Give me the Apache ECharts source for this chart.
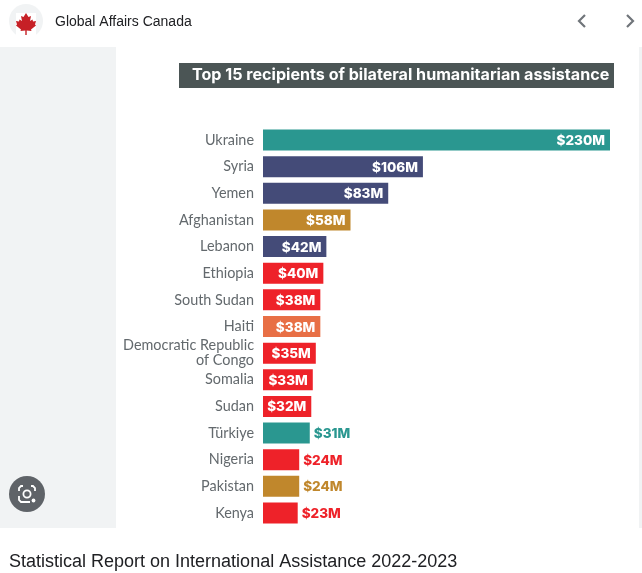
<!DOCTYPE html>
<html>
<head>
<meta charset="utf-8">
<style>html,body{margin:0;padding:0;background:#fff;overflow:hidden}#c{width:642px;height:573px}</style>
<script src="https://cdn.jsdelivr.net/npm/echarts@6/dist/echarts.min.js"></script>
</head>
<body>
<div id="c"></div>
<script>
var categories = ['Ukraine','Syria','Yemen','Afghanistan','Lebanon','Ethiopia','South Sudan','Haiti','Democratic Republic\nof Congo','Somalia','Sudan','Türkiye','Nigeria','Pakistan','Kenya'];
var values = [230,106,83,58,42,40,38,38,35,33,32,31,24,24,23];
var colours = ['#2a9790','#444b78','#444b78','#c0872c','#444b78','#ee2229','#ee2229','#e86f45','#ee2229','#ee2229','#ee2229','#2a9790','#ee2229','#c0872c','#ee2229'];
var labelInside = [1,1,1,1,1,1,1,1,1,1,1,0,0,0,0];
var titleText = 'Top 15 recipients of bilateral humanitarian assistance';
var sourceName = 'Global Affairs Canada';
var pageCaption = 'Statistical Report on International Assistance 2022-2023';
var valueFont = 'Inter, "Open Sans", sans-serif';

var chart = echarts.init(document.getElementById('c'), null, {renderer:'canvas'});
chart.setOption({
  animation:false,
  backgroundColor:'#ffffff',
  title:{
    text:titleText, left:187, top:61,
    textStyle:{color:'#ffffff',fontFamily:'Inter, sans-serif',fontWeight:700,fontSize:16.1,lineHeight:18}
  },
  grid:{left:263,top:126.7,width:347,height:399.6,containLabel:false},
  xAxis:{type:'value',min:0,max:230,show:false},
  yAxis:{
    type:'category',data:categories,inverse:true,
    axisLine:{show:false},axisTick:{show:false},splitLine:{show:false},
    axisLabel:{color:'#63696d',fontFamily:'Lato, sans-serif',fontSize:14.4,lineHeight:15,margin:9,align:'right',interval:0}
  },
  series:[{
    type:'bar',barWidth:21,silent:true,
    data:values.map(function(v,i){
      var inside = labelInside[i];
      return {
        value:v,
        itemStyle:{color:colours[i]},
        label:{
          show:true,
          position: inside ? 'insideRight' : 'right',
          distance: inside ? 5 : 4,
          offset:[0,1],
          color: inside ? '#ffffff' : colours[i],
          fontFamily:valueFont,fontWeight:800,fontSize:13.5,
          formatter:'$'+v+'M'
        }
      };
    })
  }],
  graphic:[
    {type:'rect',z:-1,shape:{x:0,y:47,width:116,height:481},style:{fill:'#f1f3f4'}},
    {type:'rect',z:-1,shape:{x:639,y:47,width:3,height:481},style:{fill:'#f1f3f4'}},
    {type:'rect',z:0,shape:{x:179,y:63,width:435,height:25},style:{fill:'#4b5555'}},
    {type:'circle',shape:{cx:26,cy:21,r:17},style:{fill:'#f1f3f4'}},
    {type:'rect',shape:{x:16,y:13,width:20,height:25},style:{fill:'#ffffff'}},
    {type:'polygon',shape:{points:[[26,13],[28.5,17],[31,16],[30,21],[32.5,19.5],[33,21.5],[36,21],[35,24.5],[36,25.5],[31,29.5],[31.5,31],[26.7,30.5],[26.7,35],[25.3,35],[25.3,30.5],[20.5,31],[21,29.5],[16,25.5],[17,24.5],[16,21],[19,21.5],[19.5,19.5],[22,21],[21,16],[23.5,17]]},style:{fill:'#c62026'}},
    {type:'text',style:{x:55,y:15,text:sourceName,fill:'#202124',font:'14px "Liberation Sans", Arial, sans-serif'}},
    {type:'polyline',shape:{points:[[585,15],[579,21],[585,27]]},style:{stroke:'#70757a',lineWidth:2.2,fill:null}},
    {type:'polyline',shape:{points:[[627,15],[633,21],[627,27]]},style:{stroke:'#70757a',lineWidth:2.2,fill:null}},
    {type:'circle',shape:{cx:27,cy:494,r:18},style:{fill:'#5f6368'}},
    {type:'polyline',shape:{points:[[19,491],[19,488],[21,486],[23,486]]},style:{stroke:'#ffffff',lineWidth:1.8,fill:null}},
    {type:'polyline',shape:{points:[[31,486],[33,486],[35,488],[35,491]]},style:{stroke:'#ffffff',lineWidth:1.8,fill:null}},
    {type:'polyline',shape:{points:[[19,496],[19,500],[21,502],[30,502]]},style:{stroke:'#ffffff',lineWidth:1.8,fill:null}},
    {type:'circle',shape:{cx:27,cy:494,r:3.6},style:{stroke:'#ffffff',lineWidth:1.8,fill:null}},
    {type:'circle',shape:{cx:33.5,cy:500.5,r:1.9},style:{fill:'#ffffff'}},
    {type:'text',style:{x:9,y:553,text:pageCaption,fill:'#202124',font:'18px "Liberation Sans", Arial, sans-serif'}}
  ]
});
</script>
</body>
</html>
